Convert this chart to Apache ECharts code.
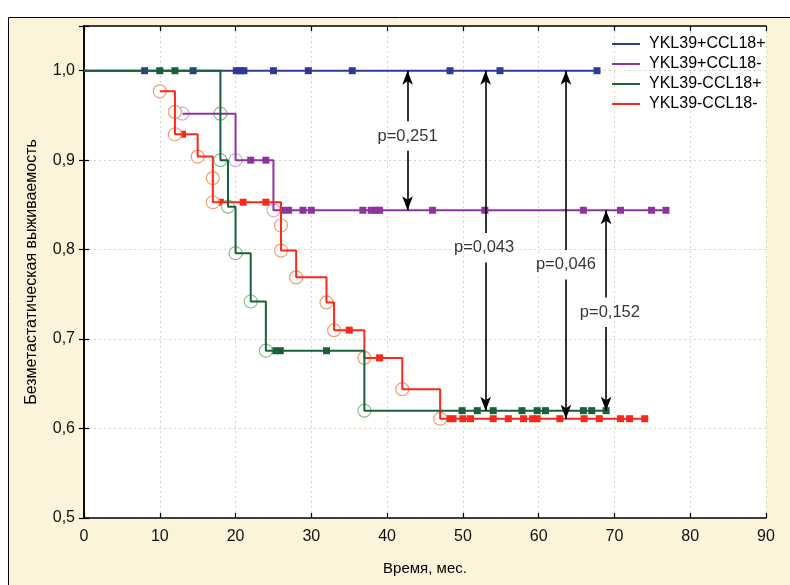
<!DOCTYPE html>
<html><head><meta charset="utf-8">
<script src="https://cdn.jsdelivr.net/npm/echarts@6/dist/echarts.min.js"></script>
<style>html,body{margin:0;padding:0;background:#fff;}#c{width:790px;height:585px;}</style>
</head><body><div id="c"></div>
<script>
// ---------- data ----------
const xTickValues = [0,10,20,30,40,50,60,70,80,90];
const yTickValues = [0.5,0.6,0.7,0.8,0.9,1.0];
const groupNames = ['YKL39+CCL18+','YKL39+CCL18-','YKL39-CCL18+','YKL39-CCL18-'];

// YKL39+CCL18+  (no events)
const blueStartT = 0;
const blueEventT = [];
const blueEventS = [];
const blueCensorT = [8,14.4,20.1,20.6,21.1,25,29.6,35.4,48.3,54.9,67.7];

// YKL39+CCL18-
const purpleStartT = null;
const purpleEventT = [13,20,25];
const purpleEventS = [0.952,0.900,0.844];
const purpleCensorT = [22,24,26.1,27,28.9,30,36.8,37.9,38.5,39,46,52.9,65.9,70.8,74.9,76.8];

// YKL39-CCL18+
const greenStartT = 0;
const greenEventT = [18,18,19,20,22,24,37];
const greenEventS = [0.952,0.900,0.848,0.796,0.742,0.687,0.620];
const greenCensorT = [10,12,25.2,25.9,32,49.9,51.9,54,57.8,59.8,60.9,65.9,67,68.9];

// YKL39-CCL18-
const redStartT = null;
const redEventT = [10,12,12,15,17,17,26,26,28,32,33,37,42,47];
const redEventS = [0.977,0.954,0.929,0.904,0.880,0.853,0.827,0.799,0.769,0.741,0.710,0.679,0.644,0.611];
const redCensorT = [13,18,21,24,35,39,48,48.7,50,51,54,56,58,59.2,59.8,62.8,66,68,70.8,72,74];

// p-value annotations
const pLabels = ['p=0,251','p=0,043','p=0,046','p=0,152'];
const pX      = [42.7, 53.0, 63.6, 68.9];
const pFrom   = [1.0, 1.0, 1.0, 0.844];
const pTo     = [0.844, 0.620, 0.611, 0.620];
const pTextY  = [0.927, 0.802, 0.783, 0.730];
const pTextX  = [42.7, 52.8, 63.6, 69.4];

// ---------- build ----------
function survAt(evT, evS, t){
  let s = 1.0;
  for (let i=0;i<evT.length;i++){ if (evT[i] <= t) s = evS[i]; }
  return s;
}
function lineData(startT, evT, evS, cT){
  const d = [];
  if (startT !== null) d.push([startT, 1.0]);
  for (let i=0;i<evT.length;i++) d.push([evT[i], evS[i]]);
  const endT = Math.max.apply(null, cT);
  d.push([endT, survAt(evT, evS, endT)]);
  return d;
}
const groups = [
  {name:groupNames[0], color:'#2E3A94', ring:'#9aa0d0', start:blueStartT, evT:blueEventT, evS:blueEventS, cT:blueCensorT, w:1.8},
  {name:groupNames[1], color:'#8E33A0', ring:'#d8a9de', start:purpleStartT, evT:purpleEventT, evS:purpleEventS, cT:purpleCensorT, w:2},
  {name:groupNames[3], color:'#F52A1C', ring:'#F59C70', start:redStartT, evT:redEventT, evS:redEventS, cT:redCensorT, w:2},
  {name:groupNames[2], color:'#17623A', ring:'#8cbf8c', start:greenStartT, evT:greenEventT, evS:greenEventS, cT:greenCensorT, w:2}
];
const series = [];
groups.forEach(g => {
  series.push({
    name:g.name, type:'line', step:'end', symbol:'none',
    data: lineData(g.start, g.evT, g.evS, g.cT),
    lineStyle:{color:g.color, width:g.w}, itemStyle:{color:g.color},
    xAxisIndex:0, yAxisIndex:0
  });
  series.push({
    name:g.name+' c', type:'scatter', symbol:'rect', symbolSize:7,
    data: g.cT.map(t => [t, survAt(g.evT, g.evS, t)]),
    itemStyle:{color:g.color, opacity:1}
  });
  series.push({
    name:g.name+' e', type:'scatter', symbol:'circle', symbolSize:13,
    data: g.evT.map((t,i) => [t, g.evS[i]]),
    itemStyle:{color:'#ffffff', borderColor:g.ring, borderWidth:1.2, opacity:1}
  });
});

// arrows
const gap = 0.0165;
const arrowData = [];
pX.forEach((x,i) => {
  arrowData.push([{coord:[x, pTextY[i]+gap], symbol:'none'}, {coord:[x, pFrom[i]], symbol:'arrow'}]);
  arrowData.push([{coord:[x, pTextY[i]-gap], symbol:'none'}, {coord:[x, pTo[i]], symbol:'arrow'}]);
});
series.push({
  name:'arrows', type:'line', data:[[pX[0], pFrom[0]]], symbol:'none',
  lineStyle:{opacity:0}, z:5,
  markLine:{
    silent:true, animation:false, symbolSize:[8,14],
    lineStyle:{color:'#000', width:1.6, type:'solid'},
    label:{show:false},
    data: arrowData
  }
});
series.push({
  name:'ptext', type:'scatter', symbolSize:1, z:6,
  itemStyle:{color:'rgba(0,0,0,0)'},
  data: pLabels.map((l,i) => [pTextX[i], pTextY[i], l]),
  label:{show:true, position:'inside', formatter: p => p.value[2],
         color:'#000', fontSize:16.5, fontFamily:'Arial, "Liberation Sans", sans-serif'}
});

const font = 'Arial, "Liberation Sans", sans-serif';
const chart = echarts.init(document.getElementById('c'), null, {renderer:'canvas'});
chart.setOption({
  animation:false,
  backgroundColor:'#ffffff',
  graphic:[{type:'rect', z:-100, silent:true,
    shape:{x:8.5, y:17.5, width:800, height:600},
    style:{fill:'#FCF4DA', stroke:'#000', lineWidth:1}}],
  grid:{left:84, right:24, top:26, bottom:67, show:true, backgroundColor:'#ffffff', borderWidth:0},
  legend:{
    data:groupNames, orient:'vertical', left:612, top:36, padding:0,
    icon:'rect', itemWidth:28, itemHeight:2, itemGap:4, selectedMode:false,
    textStyle:{color:'#000', fontSize:16, fontFamily:font, padding:[0,0,0,4]}
  },
  xAxis:[{
    type:'value', min:xTickValues[0], max:xTickValues[xTickValues.length-1], interval:10,
    position:'bottom',
    axisLine:{show:true, lineStyle:{color:'#000', width:1.6}},
    axisTick:{show:true, inside:true, length:5, lineStyle:{color:'#000', width:1.2}},
    axisLabel:{color:'#111', fontSize:16, fontFamily:font, margin:11},
    splitLine:{show:true, lineStyle:{color:'#d6d6c4', width:1, type:[2,3]}},
    name:'Время, мес.', nameLocation:'middle', nameGap:43,
    nameTextStyle:{color:'#000', fontSize:15, fontFamily:font}
  },{
    type:'value', min:0, max:90, interval:10, position:'top',
    axisLine:{show:true, lineStyle:{color:'#000', width:1.6}},
    axisTick:{show:true, inside:true, length:5, lineStyle:{color:'#000', width:1.2}},
    axisLabel:{show:false}, splitLine:{show:false}
  }],
  yAxis:[{
    type:'value', min:yTickValues[0], max:1.05, interval:0.1,
    axisLine:{show:true, lineStyle:{color:'#000', width:1.6}},
    axisTick:{show:true, inside:true, length:5, lineStyle:{color:'#000', width:1.2}},
    axisLabel:{color:'#111', fontSize:16, fontFamily:font, margin:9,
      formatter: v => {
        const ok = yTickValues.some(t => Math.abs(t - v) < 1e-6);
        return ok ? v.toFixed(1).replace('.', ',') : '';
      }},
    splitLine:{show:true, lineStyle:{color:'#d6d6c4', width:1, type:[2,3]}},
    name:'Безметастатическая выживаемость', nameLocation:'middle', nameGap:44, nameRotate:90,
    nameTextStyle:{color:'#000', fontSize:16, fontFamily:font}
  },{
    type:'value', min:0.5, max:1.05, interval:0.1, position:'right',
    axisLine:{show:true, lineStyle:{color:'#000', width:1.6}},
    axisTick:{show:true, inside:true, length:5, lineStyle:{color:'#000', width:1.2}},
    axisLabel:{show:false}, splitLine:{show:false}
  }],
  series: series
});
</script>
</body></html>
